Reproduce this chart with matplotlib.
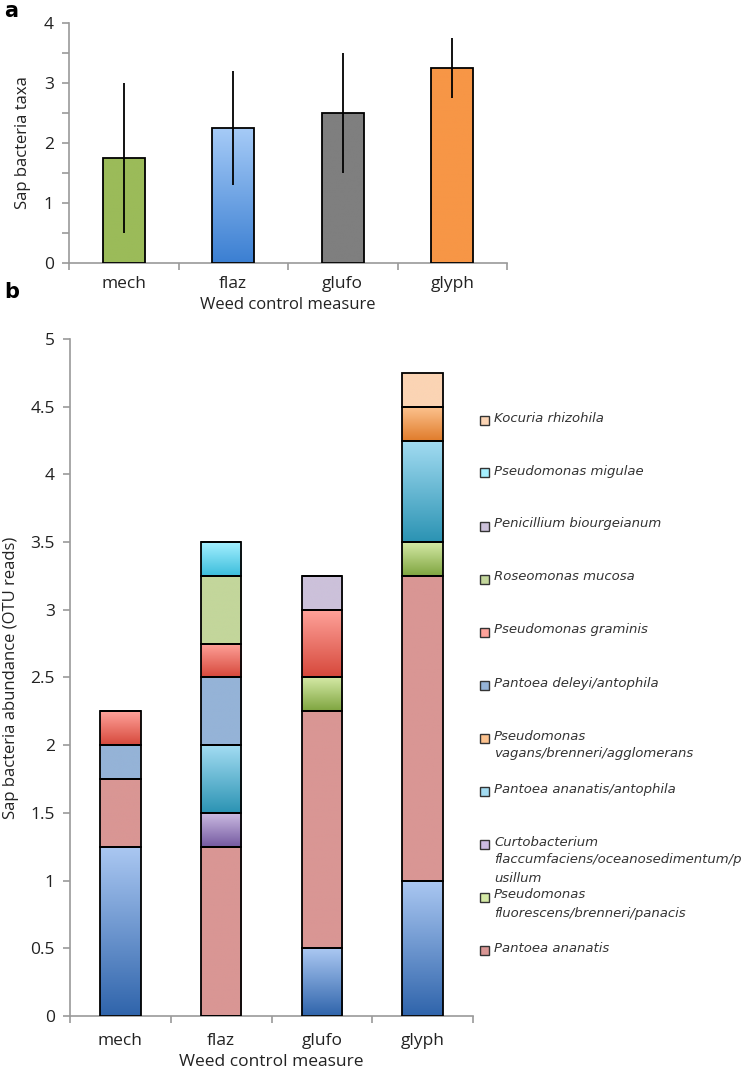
import numpy as np
import matplotlib
matplotlib.use('Agg')
import matplotlib.pyplot as plt
from matplotlib.colors import LinearSegmentedColormap
from matplotlib.patches import Rectangle
from matplotlib.ticker import MultipleLocator, FuncFormatter

# data
treatments = ['mech', 'flaz', 'glufo', 'glyph']

# panel a
taxa_mean = [1.75, 2.25, 2.5, 3.25]
taxa_err = [1.25, 0.95, 1.0, 0.5]
taxa_colors = [('#9bbb59', '#9bbb59'), ('#a6cbf7', '#3b7fd2'),
               ('#7f7f7f', '#7f7f7f'), ('#f79646', '#f79646')]

# panel b, stacked bottom -> top
species = [
    '',
    'Pantoea ananatis',
    'Pseudomonas\nfluorescens/brenneri/panacis',
    'Curtobacterium\nflaccumfaciens/oceanosedimentum/p\nusillum',
    'Pantoea ananatis/antophila',
    'Pseudomonas\nvagans/brenneri/agglomerans',
    'Pantoea deleyi/antophila',
    'Pseudomonas graminis',
    'Roseomonas mucosa',
    'Penicillium biourgeianum',
    'Pseudomonas migulae',
    'Kocuria rhizohila',
]
abund = [
    [1.25, 0.0, 0.5, 1.0],
    [0.5, 1.25, 1.75, 2.25],
    [0.0, 0.0, 0.25, 0.25],
    [0.0, 0.25, 0.0, 0.0],
    [0.0, 0.5, 0.0, 0.75],
    [0.0, 0.0, 0.0, 0.25],
    [0.25, 0.5, 0.0, 0.0],
    [0.25, 0.25, 0.5, 0.0],
    [0.0, 0.5, 0.0, 0.0],
    [0.0, 0.0, 0.25, 0.0],
    [0.0, 0.25, 0.0, 0.0],
    [0.0, 0.0, 0.0, 0.25],
]
# (top colour, bottom colour)
sp_colors = [
    ('#abc8f2', '#2f64ab'),
    ('#d99694', '#d99694'),
    ('#d5eaa6', '#7ea43f'),
    ('#cbbbe2', '#7459a0'),
    ('#a3dcf2', '#2b93b3'),
    ('#fcc28e', '#e07b2a'),
    ('#95b3d7', '#95b3d7'),
    ('#ffa39b', '#d6483b'),
    ('#c3d69b', '#c3d69b'),
    ('#ccc1da', '#ccc1da'),
    ('#a5f0ff', '#3bbddc'),
    ('#fbd4b4', '#fbd4b4'),
]

plt.rcParams['font.family'] = ['Open Sans', 'DejaVu Sans']
AXC = '#9a9a9a'


def grad_bar(ax, x, h, w, bottom, ctop, cbot):
    bars = ax.bar(x, h, w, bottom=bottom, facecolor='none',
                  edgecolor='black', linewidth=1.3, zorder=3)
    cmap = LinearSegmentedColormap.from_list('g', [cbot, ctop])
    g = np.linspace(0, 1, 256).reshape(-1, 1)
    for b in bars:
        if b.get_height() <= 0:
            continue
        ax.imshow(g, cmap=cmap, origin='lower', aspect='auto', zorder=2,
                  extent=[b.get_x(), b.get_x() + b.get_width(),
                          b.get_y(), b.get_y() + b.get_height()])
    return bars


def style_axes(ax, ymax, ystep, pad):
    for s in ['top', 'right']:
        ax.spines[s].set_visible(False)
    for s in ['left', 'bottom']:
        ax.spines[s].set_color(AXC)
        ax.spines[s].set_linewidth(1.2)
    ax.set_xlim(-0.5, 3.5)
    ax.set_ylim(0, ymax)
    ax.set_xticks(range(4))
    ax.set_xticklabels(treatments, fontsize=12.5, color='#222222')
    ax.set_xticks(np.arange(-0.5, 3.6, 1), minor=True)
    ax.tick_params(axis='x', which='major', length=0, pad=pad)
    ax.tick_params(axis='x', which='minor', length=5, color=AXC, width=1.2)
    ax.yaxis.set_major_locator(MultipleLocator(ystep))
    ax.yaxis.set_minor_locator(MultipleLocator(0.5))
    ax.yaxis.set_major_formatter(FuncFormatter(lambda v, p: '%g' % v))
    ax.tick_params(axis='y', which='both', length=5, color=AXC, width=1.2,
                   labelsize=12.5, labelcolor='#222222', pad=6)
    ax.set_xlabel('Weed control measure', fontsize=12, color='#222222', labelpad=4)


W, H = 742, 1073
fig = plt.figure(figsize=(W / 100, H / 100), dpi=100)

# panel a
ax1 = fig.add_axes([69 / W, 1 - 263 / H, 438 / W, 240 / H])
x = np.arange(len(treatments))
for i in range(len(treatments)):
    grad_bar(ax1, x[i], taxa_mean[i], 0.38, 0, *taxa_colors[i])
ax1.errorbar(x, taxa_mean, yerr=taxa_err, fmt='none', ecolor='black',
             elinewidth=1.3, capsize=0, zorder=4)
style_axes(ax1, 4, 1, 9)
ax1.set_ylabel('Sap bacteria taxa', fontsize=12, color='#222222', labelpad=9)

# panel b
ax2 = fig.add_axes([70 / W, 1 - 1016 / H, 403 / W, 677 / H])
bottom = np.zeros(len(treatments))
for vals, (ct, cb) in zip(abund, sp_colors):
    vals = np.array(vals)
    for i in range(len(treatments)):
        grad_bar(ax2, x[i], vals[i], 0.4, bottom[i], ct, cb)
    bottom += vals
style_axes(ax2, 5, 0.5, 12)
ax2.xaxis.label.set_fontsize(12.5)
ax2.set_ylabel('Sap bacteria abundance (OTU reads)', fontsize=12,
               color='#222222', labelpad=8)

# legend (top entry first, like the stacking reversed)
ly0, lstep = 420, 53
for k, idx in enumerate(range(len(species) - 1, 0, -1)):
    yc = ly0 + k * lstep
    ct, cb = sp_colors[idx]
    fig.add_artist(Rectangle((480 / W, 1 - (yc + 4.5) / H), 9 / W, 9 / H,
                             transform=fig.transFigure, facecolor=ct,
                             edgecolor='#333333', linewidth=1.0))
    fig.text(494 / W, 1 - (yc - 8.5) / H, species[idx], fontsize=9.5,
             style='italic', family='DejaVu Sans', color='#333333',
             va='top', ha='left', linespacing=1.5)

fig.text(4 / W, 1 - 17 / H, 'a', fontsize=15, fontweight='bold',
         family='DejaVu Sans')
fig.text(4 / W, 1 - 298 / H, 'b', fontsize=15, fontweight='bold',
         family='DejaVu Sans')

fig.savefig('out.png', dpi=100)
